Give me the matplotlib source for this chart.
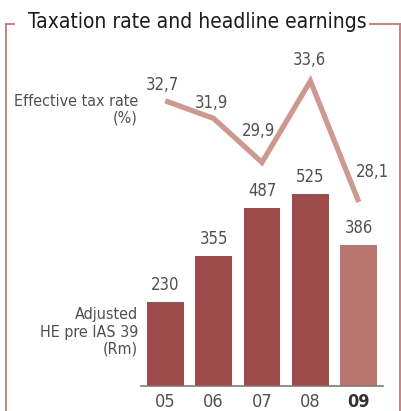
import matplotlib
matplotlib.use("Agg")
import matplotlib.pyplot as plt
from matplotlib.lines import Line2D

# values
years = ["05", "06", "07", "08", "09"]
earnings = [230, 355, 487, 525, 386]
tax_rate = [32.7, 31.9, 29.9, 33.6, 28.1]
tax_labels = ["32,7", "31,9", "29,9", "33,6", "28,1"]

W, H = 402, 411
txt = dict(family="DejaVu Sans", stretch="condensed")
grey = "#505050"
frame_col = "#c07a78"

fig = plt.figure(figsize=(W / 100, H / 100), dpi=100)

# axes placed in pixel terms: baseline at y=386, x-axis from 141 to 383
top_px, base_px = 40, 386
left_px, right_px = 141, 383
ax = fig.add_axes([left_px / W, (H - base_px) / H,
                   (right_px - left_px) / W, (base_px - top_px) / H])
x = list(range(len(years)))
bar_cols = ["#9c4a4a"] * 4 + ["#b97570"]
ax.bar(x, earnings, width=0.76, color=bar_cols)
ax.set_xlim(-0.5, 4.5)
ax.set_ylim(0, (base_px - top_px) / 0.366)
for xi, v in zip(x, earnings):
    ax.text(xi, v + 22, str(v), ha="center", va="bottom",
            fontsize=12, color=grey, **txt)

for s in ["top", "right", "left"]:
    ax.spines[s].set_visible(False)
ax.spines["bottom"].set_color("#7a7a7a")
ax.spines["bottom"].set_linewidth(1.2)
ax.set_yticks([])
ax.set_xticks(x)
ax.set_xticklabels(years, fontsize=13, color=grey, **txt)
ax.get_xticklabels()[-1].set_fontweight("bold")
ax.get_xticklabels()[-1].set_color("#333333")
ax.tick_params(axis="x", length=0, pad=5)

# tax rate line on a twin axis
ax2 = ax.twinx()
ax2.set_ylim(33.6 - (base_px - 81) / 22, 33.6 + (81 - top_px) / 22)
ax2.plot(x, tax_rate, color="#cd9890", lw=3.8, solid_joinstyle="miter",
         solid_capstyle="butt")
offsets = [(-0.05, 0.3), (-0.05, 0.3), (-0.08, 1.0), (-0.02, 0.55), (0.29, 0.95)]
for xi, v, lab, (dx, dy) in zip(x, tax_rate, tax_labels, offsets):
    ax2.text(xi + dx, v + dy, lab, ha="center", va="bottom",
             fontsize=12, color=grey, **txt)
ax2.axis("off")

# side captions
fig.text(138 / W, 1 - 110 / H, "Effective tax rate\n(%)", ha="right", va="center",
         fontsize=11.5, color=grey, linespacing=1.1, **txt)
fig.text(138 / W, 1 - 332 / H, "Adjusted\nHE pre IAS 39\n(Rm)", ha="right",
         va="center", fontsize=11.5, color=grey, linespacing=1.2, **txt)

# title and frame
fig.text(28 / W, 1 - 22 / H, "Taxation rate and headline earnings", ha="left",
         va="center", fontsize=15, color="#1c1c1c", **txt)
lw = 1.3
for xs, ys in [((6, 6), (24, H)), ((6, 14), (24, 24)),
               ((370, 400), (24, 24)), ((400, 400), (24, H))]:
    fig.add_artist(Line2D([v / W for v in xs], [1 - v / H for v in ys],
                          color=frame_col, lw=lw))

fig.savefig("out.png", dpi=100)
